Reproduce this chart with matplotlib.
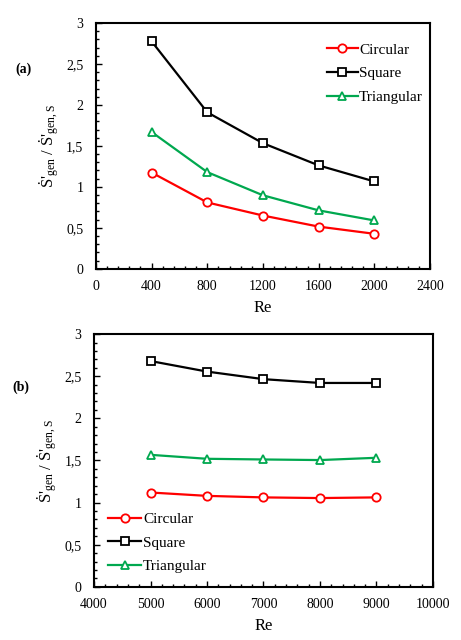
import matplotlib.pyplot as plt
from matplotlib.ticker import MultipleLocator, FuncFormatter

plt.rcParams['font.family'] = ['Liberation Serif', 'DejaVu Serif']
plt.rcParams['mathtext.fontset'] = 'custom'
plt.rcParams['mathtext.rm'] = 'Liberation Serif'
plt.rcParams['mathtext.it'] = 'Liberation Serif:italic'

# (a) low Re
re_a = [400, 800, 1200, 1600, 2000]
circ_a = [1.175, 0.81, 0.65, 0.515, 0.427]
sq_a = [2.777, 1.91, 1.533, 1.262, 1.066]
tri_a = [1.67, 1.18, 0.897, 0.713, 0.59]

# (b) high Re
re_b = [5000, 6000, 7000, 8000, 9000]
circ_b = [1.12, 1.08, 1.062, 1.054, 1.062]
sq_b = [2.68, 2.555, 2.465, 2.42, 2.42]
tri_b = [1.567, 1.52, 1.512, 1.505, 1.532]

names = ['Circular', 'Square', 'Triangular']
colors = ['#ff0000', '#000000', '#00a84f']
markers = ['o', 's', '^']

ylab = "Ṡ'$_{\\mathrm{gen}}$ / Ṡ'$_{\\mathrm{gen,S}}$"
comma = FuncFormatter(lambda v, p: ('%g' % v).replace('.', ','))

fig = plt.figure(figsize=(4.61, 6.4), dpi=100)
ax1 = fig.add_axes([0.208, 0.580, 0.725, 0.384])
ax2 = fig.add_axes([0.204, 0.083, 0.735, 0.395])


def draw(ax, x, series, xminor):
    for ys, n, c, m in zip(series, names, colors, markers):
        ax.plot(x, ys, color=c, marker=m, markersize=6, markerfacecolor='white',
                markeredgecolor=c, markeredgewidth=1.3, linewidth=1.6, label=n)
    ax.set_ylim(0, 3)
    ax.yaxis.set_major_locator(MultipleLocator(0.5))
    ax.yaxis.set_minor_locator(MultipleLocator(0.1))
    ax.xaxis.set_minor_locator(MultipleLocator(xminor))
    ax.yaxis.set_major_formatter(comma)
    ax.tick_params(which='both', direction='in', top=False, right=False, labelsize=10)
    ax.tick_params(axis='x', which='major', length=4, width=1, pad=8)
    ax.tick_params(axis='y', which='major', length=4, width=1, pad=9)
    ax.tick_params(which='minor', length=2.5, width=1)
    for s in ax.spines.values():
        s.set_linewidth(1.5)
    ax.set_xlabel('Re', fontsize=12, labelpad=5)
    ax.set_ylabel(ylab, fontsize=12, labelpad=4)


draw(ax1, re_a, [circ_a, sq_a, tri_a], 80)
ax1.set_xlim(0, 2400)
ax1.xaxis.set_major_locator(MultipleLocator(400))
ax1.legend(loc='upper right', frameon=False, fontsize=11, handlelength=2.0,
           handletextpad=0.1, labelspacing=0.65, bbox_to_anchor=(1.02, 0.975))

draw(ax2, re_b, [circ_b, sq_b, tri_b], 200)
ax2.set_xlim(4000, 10000)
ax2.xaxis.set_major_locator(MultipleLocator(1000))
ax2.legend(loc='lower left', frameon=False, fontsize=11, handlelength=2.2,
           handletextpad=0.1, labelspacing=0.65, bbox_to_anchor=(0.0, 0.0))

fig.text(0.033, 0.892, '(a)', fontsize=10, fontweight='bold', va='center', ha='left')
fig.text(0.026, 0.395, '(b)', fontsize=10, fontweight='bold', va='center', ha='left')

fig.savefig('out.png', dpi=100)
